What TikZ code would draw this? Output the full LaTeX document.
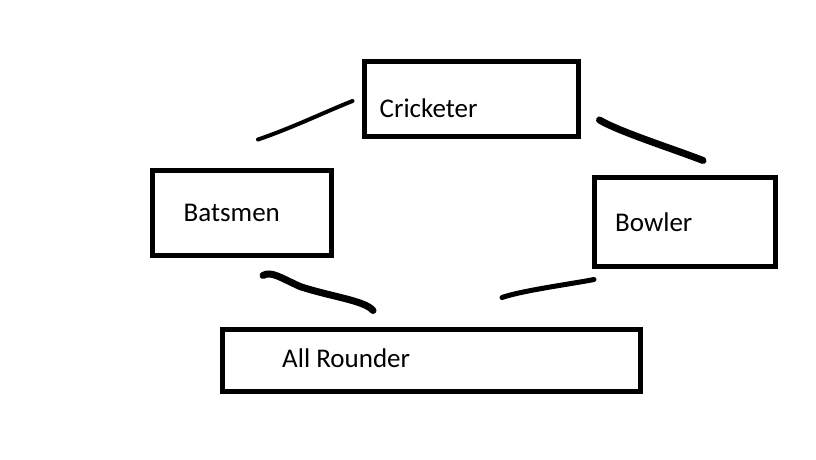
\documentclass[tikz,border=0pt]{standalone}
\usepackage{fontspec}
\setmainfont{Carlito}
\usetikzlibrary{calc}
\begin{document}
\begin{tikzpicture}[x=1pt, y=-1pt,
  box/.style={draw, shape=rectangle, line width=5pt},
  lbl/.style={inner sep=0pt, anchor=base west, font=\fontsize{27}{32}\selectfont},
  stroke/.style={line cap=round, line join=round}]
\useasboundingbox (0,0) rectangle (816,460);
\node (cricketer) [box, minimum width=214pt, minimum height=75pt] at (471.5,99) {};
\node (batsmen) [box, minimum width=179pt, minimum height=85pt] at (242,213) {};
\node (bowler) [box, minimum width=181pt, minimum height=89pt] at (685,222) {};
\node (allrounder) [box, minimum width=418pt, minimum height=62pt] at (431.5,360.5) {};
\node (cricketertext) [lbl] at ($(cricketer.west)+(17.5,18)$) {Cricketer};
\node (batsmentext) [lbl] at ($(batsmen.west)+(33.5,8)$) {Batsmen};
\node (bowlertext) [lbl] at ($(bowler.west)+(23,9)$) {Bowler};
\node (allroundertext) [lbl] at ($(allrounder.west)+(62,6.5)$) {All Rounder};
\draw[stroke, line width=4pt] ($(batsmen.north)+(16,-28.5)$) .. controls +(35,-12) and +(-30,12) .. ($(cricketer.west)+(-9.5,2)$);
\draw[stroke, line width=7pt] ($(cricketer.east)+(18.5,21)$) .. controls +(20,12) and +(-25,-10) .. ($(bowler.north)+(18,-14.5)$);
\draw[stroke, line width=7pt] ($(batsmen.south)+(21,17.5)$) .. controls +(8,-5) and +(-18,-8) .. ($(batsmen.south)+(58,28.5)$) .. controls +(30,10) and +(-8,-10) .. ($(allrounder.north)+(-58.5,-16.5)$);
\draw[stroke, line width=5pt] ($(allrounder.north)+(70.5,-29.5)$) .. controls +(20,-7) and +(-20,4) .. ($(bowler.south)+(-91,10.5)$);
\end{tikzpicture}
\end{document}
